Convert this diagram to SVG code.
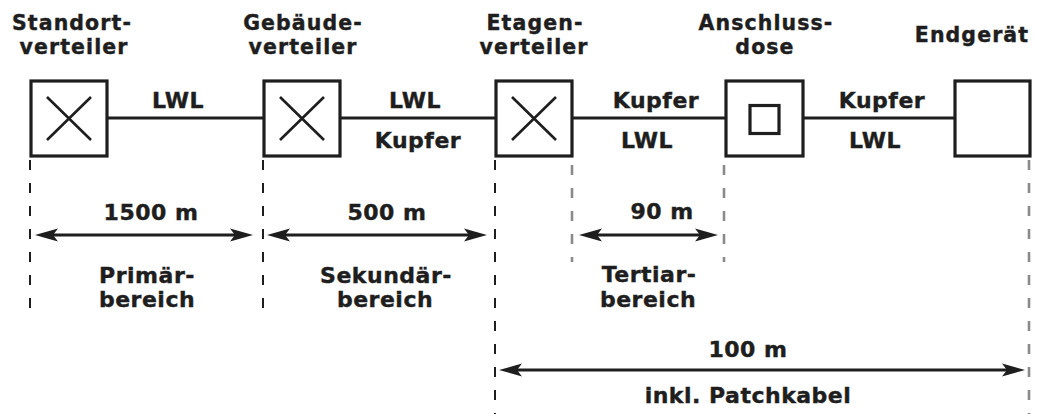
<svg xmlns="http://www.w3.org/2000/svg" width="1037" height="416" viewBox="0 0 1037 416">
  <style>
    text { font-family: "DejaVu Sans", "Liberation Sans", sans-serif; font-weight: bold; font-size: 22px; fill: #1e1e1e; stroke: #1e1e1e; stroke-width: 0.4; text-anchor: middle; letter-spacing: 0.5px; }
    text.title { font-size: 20.5px; letter-spacing: 1.1px; }
    .box { fill: #ffffff; stroke: #1e1e1e; stroke-width: 3.2; }
    .cross { stroke: #1e1e1e; stroke-width: 2.6; fill: none; }
    .wire { stroke: #1e1e1e; stroke-width: 3; fill: none; }
    .dash { stroke: #1e1e1e; stroke-width: 2; stroke-dasharray: 10 13; fill: none; }
    .dashg { stroke: #8a8a8a; stroke-width: 2.6; stroke-dasharray: 10 13; fill: none; }
    .dim { stroke: #1e1e1e; stroke-width: 3.2; fill: none; marker-start: url(#ah); marker-end: url(#ah); }
  </style>
  <defs>
    <marker id="ah" markerUnits="userSpaceOnUse" viewBox="-14 -8 26 16" refX="0" refY="0" markerWidth="26" markerHeight="16" orient="auto-start-reverse" overflow="visible">
      <path d="M10,0 L-13,-6.5 L-8,0 L-13,6.5 Z" fill="#1e1e1e"/>
    </marker>
  </defs>

  <rect width="1037" height="416" fill="#ffffff"/>

  <g id="connectors">
    <line class="wire" x1="107" y1="118" x2="264" y2="118"/>
    <line class="wire" x1="340" y1="118" x2="496" y2="118"/>
    <line class="wire" x1="572" y1="118" x2="726" y2="118"/>
    <line class="wire" x1="803" y1="118" x2="955" y2="118"/>
    <text x="178" y="108">LWL</text>
    <text x="415" y="108">LWL</text>
    <text x="418" y="148">Kupfer</text>
    <text x="656" y="108">Kupfer</text>
    <text x="647" y="148">LWL</text>
    <text x="882" y="108">Kupfer</text>
    <text x="875" y="148">LWL</text>
  </g>

  <g id="extension-lines">
    <line class="dash" x1="30" y1="160" x2="30" y2="320"/>
    <line class="dash" x1="263" y1="160" x2="263" y2="320"/>
    <line class="dash" x1="495" y1="160" x2="495" y2="414"/>
    <line class="dashg" x1="572" y1="165" x2="572" y2="262"/>
    <line class="dashg" x1="724" y1="165" x2="724" y2="262"/>
    <line class="dashg" x1="1029" y1="160" x2="1029" y2="414"/>
  </g>

  <g id="node-standortverteiler">
    <text class="title" x="72" y="29.5">Standort-</text>
    <text class="title" x="74" y="53.5">verteiler</text>
    <rect class="box" x="31" y="81" width="76" height="75"/>
    <path class="cross" d="M47,97 L91,140 M91,97 L47,140"/>
  </g>

  <g id="node-gebaeudeverteiler">
    <text class="title" x="303" y="29.5">Gebäude-</text>
    <text class="title" x="303" y="53.5">verteiler</text>
    <rect class="box" x="264" y="81" width="76" height="75"/>
    <path class="cross" d="M280,97 L324,140 M324,97 L280,140"/>
  </g>

  <g id="node-etagenverteiler">
    <text class="title" x="535" y="29.5">Etagen-</text>
    <text class="title" x="534" y="53.5">verteiler</text>
    <rect class="box" x="496" y="81" width="76" height="75"/>
    <path class="cross" d="M512,97 L556,140 M556,97 L512,140"/>
  </g>

  <g id="node-anschlussdose">
    <text class="title" x="766" y="29.5">Anschluss-</text>
    <text class="title" x="765" y="53.5">dose</text>
    <rect class="box" x="726" y="81" width="77" height="75"/>
    <rect class="box" x="750" y="105.5" width="29" height="28"/>
  </g>

  <g id="node-endgeraet">
    <text class="title" x="972" y="42">Endgerät</text>
    <rect class="box" x="955" y="81" width="75" height="75"/>
  </g>

  <g id="dimension-primaer">
    <text x="151" y="220">1500 m</text>
    <line class="dim" x1="45" y1="235" x2="243" y2="235"/>
    <text x="147" y="283">Primär-</text>
    <text x="147" y="307">bereich</text>
  </g>

  <g id="dimension-sekundaer">
    <text x="387" y="220">500 m</text>
    <line class="dim" x1="277" y1="235" x2="477" y2="235"/>
    <text x="386" y="283">Sekundär-</text>
    <text x="385" y="307">bereich</text>
  </g>

  <g id="dimension-tertiaer">
    <text x="662" y="219">90 m</text>
    <line class="dim" x1="589" y1="235" x2="708" y2="235"/>
    <text x="649" y="282">Tertiar-</text>
    <text x="648" y="307">bereich</text>
  </g>

  <g id="dimension-gesamt">
    <text x="748" y="357">100 m</text>
    <line class="dim" x1="509" y1="370" x2="1015" y2="370"/>
    <text x="748" y="403">inkl. Patchkabel</text>
  </g>
</svg>
